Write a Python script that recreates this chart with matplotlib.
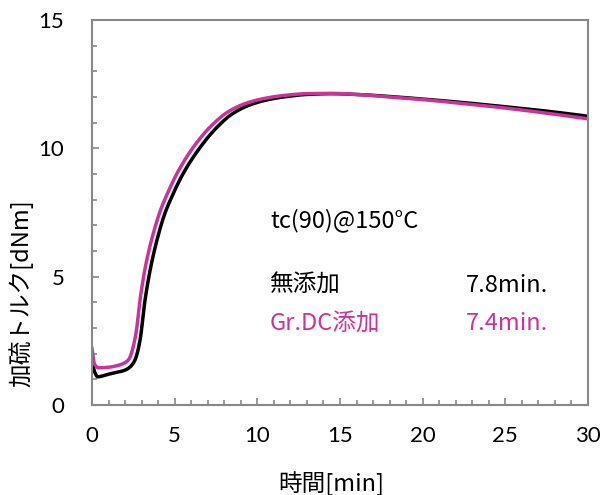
import matplotlib
matplotlib.use("Agg")
import matplotlib.pyplot as plt
from matplotlib.ticker import MultipleLocator
import numpy as np

# 無添加 (black)
t_base = [0, 0.15, 0.35, 1, 1.5, 2.0, 2.3, 2.6, 2.9, 3.2, 3.5, 3.9, 4.4, 4.75, 5.5,
          6.5, 7.5, 8.5, 9.5, 10.6, 11.8, 13, 14.5, 16, 18, 20, 22.5, 25, 27.5, 30]
tq_base = [1.7, 1.3, 1.1, 1.2, 1.27, 1.36, 1.48, 1.75, 2.5, 4.05, 5.2, 6.35, 7.45, 8.0, 9.0,
           10.0, 10.78, 11.35, 11.68, 11.89, 12.02, 12.1, 12.13, 12.1, 12.02, 11.92,
           11.78, 11.62, 11.45, 11.25]

# Gr.DC添加 (magenta)
t_grdc = [0, 0.15, 0.4, 1, 1.5, 2.0, 2.25, 2.4, 2.65, 2.95, 3.25, 3.65, 4.15, 4.5, 5.25,
          6.25, 7.25, 8.25, 9.25, 10.4, 11.6, 13, 14.5, 16, 18, 20, 22.5, 25, 27.5, 30]
tq_grdc = [2.2, 1.6, 1.45, 1.47, 1.53, 1.65, 1.8, 2.05, 2.75, 4.3, 5.45, 6.55, 7.6, 8.15, 9.15,
           10.15, 10.9, 11.43, 11.74, 11.94, 12.06, 12.13, 12.14, 12.1, 12.0, 11.9,
           11.74, 11.57, 11.37, 11.15]

black = "#000000"
magenta = "#CC3399"
gray = "#888888"
jp = ["Noto Sans CJK JP", "DejaVu Sans"]


def smooth(t, y):
    # monotone cubic (pchip) through the read points
    t = np.asarray(t, float)
    y = np.asarray(y, float)
    h = np.diff(t)
    d = np.diff(y) / h
    m = np.zeros_like(y)
    for k in range(1, len(y) - 1):
        if d[k - 1] * d[k] > 0:
            w1 = 2 * h[k] + h[k - 1]
            w2 = h[k] + 2 * h[k - 1]
            m[k] = (w1 + w2) / (w1 / d[k - 1] + w2 / d[k])
    m[0] = d[0]
    m[-1] = d[-1]
    tt = np.linspace(t[0], t[-1], 2000)
    idx = np.clip(np.searchsorted(t, tt) - 1, 0, len(h) - 1)
    s = (tt - t[idx]) / h[idx]
    h00 = 2 * s**3 - 3 * s**2 + 1
    h10 = s**3 - 2 * s**2 + s
    h01 = -2 * s**3 + 3 * s**2
    h11 = s**3 - s**2
    yy = h00 * y[idx] + h10 * h[idx] * m[idx] + h01 * y[idx + 1] + h11 * h[idx] * m[idx + 1]
    return tt, yy


fig = plt.figure(figsize=(6.02, 4.95), dpi=100)
ax = fig.add_axes([0.1528, 0.1818, 0.8239, 0.7778])

ax.plot(*smooth(t_base, tq_base), color=black, lw=2.5)
ax.plot(*smooth(t_grdc, tq_grdc), color=magenta, lw=2.5)

ax.set_xlim(0, 30)
ax.set_ylim(0, 15)
ax.xaxis.set_major_locator(MultipleLocator(5))
ax.xaxis.set_minor_locator(MultipleLocator(1))
ax.yaxis.set_major_locator(MultipleLocator(5))
ax.yaxis.set_minor_locator(MultipleLocator(1))

for sp in ax.spines.values():
    sp.set_color(gray)
    sp.set_linewidth(1.5)

ax.tick_params(which="both", direction="in", color=gray, width=1.2, top=False, right=False)
ax.tick_params(which="major", length=5, labelsize=16, pad=15)
ax.tick_params(which="minor", length=3.5)
ax.tick_params(axis="y", which="major", pad=20)
for lb in ax.get_xticklabels() + ax.get_yticklabels():
    lb.set_family(["Lato", "DejaVu Sans"])

ax.set_xlabel("時間[min]", fontsize=17, family=jp)
ax.set_ylabel("加硫トルク[dNm]", fontsize=17, family=jp)
ax.xaxis.set_label_coords(0.482, -0.172)
ax.yaxis.set_label_coords(-0.119, 0.29)

ax.text(10.77, 7.21, "tc(90)@150°C", fontsize=17, family=jp, va="center", color=black)
ax.text(10.77, 4.67, "無添加", fontsize=17, family=jp, va="center", color=black)
ax.text(22.6, 4.67, "7.8min.", fontsize=17, family=jp, va="center", color=black)
ax.text(10.77, 3.19, "Gr.DC添加", fontsize=17, family=jp, va="center", color=magenta)
ax.text(22.6, 3.19, "7.4min.", fontsize=17, family=jp, va="center", color=magenta)

fig.savefig("out.png", dpi=100)
